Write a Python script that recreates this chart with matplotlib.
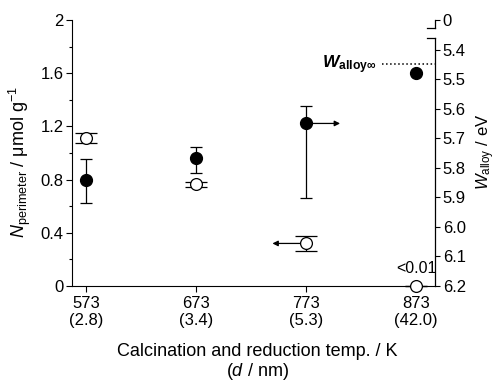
import numpy as np
import matplotlib
matplotlib.use('Agg')
import matplotlib.pyplot as plt

plt.rcParams['font.family'] = ['Liberation Sans', 'DejaVu Sans']
plt.rcParams['mathtext.fontset'] = 'custom'
plt.rcParams['mathtext.rm'] = 'Liberation Sans'
plt.rcParams['mathtext.it'] = 'Liberation Sans:italic'
plt.rcParams['mathtext.bf'] = 'Liberation Sans:italic:bold'
plt.rcParams['mathtext.sf'] = 'Liberation Sans:bold'

# calcination / reduction temperature (K) and particle size labels
temps = [573, 673, 773, 873]
tick_labels = ['573\n(2.8)', '673\n(3.4)', '773\n(5.3)', '873\n(42.0)']

# N_perimeter (open circles, left axis)
n_perim = [1.11, 0.765, 0.32, 0.0]
n_err = [0.037, 0.02, 0.057, 0.0]

# W_alloy (filled circles, right axis)
w_alloy = [5.84, 5.768, 5.65, 5.478]
w_err_low = [0.069, 0.039, 0.06, 0.0]
w_err_high = [0.079, 0.051, 0.251, 0.0]
w_inf = 5.45

left_ticks = [0, 0.4, 0.8, 1.2, 1.6, 2.0]
left_labels = ['0', '0.4', '0.8', '1.2', '1.6', '2']
right_ticks = [5.3, 5.4, 5.5, 5.6, 5.7, 5.8, 5.9, 6.0, 6.1, 6.2]
right_labels = ['0', '5.4', '5.5', '5.6', '5.7', '5.8', '5.9', '6.0', '6.1', '6.2']

W, H = 497, 383
fig = plt.figure(figsize=(W / 100, H / 100), dpi=100)
ax = fig.add_axes([72 / W, (H - 286) / H, (435 - 72) / W, 266 / H])
ax.set_xlim(560.3, 890.3)
ax.set_ylim(0, 2)
ax.patch.set_visible(False)

ax2 = ax.twinx()
ax2.set_ylim(6.2, 5.3)

fs = 12
for a in (ax, ax2):
    a.spines['top'].set_visible(False)
    a.spines['right'].set_visible(False)
ax2.spines['left'].set_visible(False)
ax2.spines['bottom'].set_visible(False)

# left axis
ax.set_yticks(left_ticks)
ax.set_yticklabels(left_labels, fontsize=fs)
ax.set_yticks(np.arange(0.2, 2.0, 0.4), minor=True)
ax.tick_params(axis='y', which='major', length=4, width=0.8, pad=2)
ax.tick_params(axis='y', which='minor', length=2.5, width=0.8)
ax.set_xticks(temps)
ax.set_xticklabels(tick_labels, fontsize=fs, linespacing=1.15)
ax.tick_params(axis='x', length=4, width=0.8, pad=3.5)

# right axis (broken)
ax2.set_yticks(right_ticks)
ax2.set_yticklabels(right_labels, fontsize=fs)
ax2.tick_params(axis='y', length=3.5, width=0.8, pad=2)
ax2.plot([1, 1], [0, 0.932], color='black', lw=0.9, transform=ax2.transAxes, clip_on=False)
ax2.plot([1, 1], [0.970, 1.0], color='black', lw=0.9, transform=ax2.transAxes, clip_on=False)
ax2.plot([1 - 8 / 363, 1], [0.932, 0.932], color='black', lw=0.9, transform=ax2.transAxes, clip_on=False)
ax2.plot([1 - 8 / 363, 1], [0.970, 0.970], color='black', lw=0.9, transform=ax2.transAxes, clip_on=False)

# open circles: N_perimeter
ax.errorbar(temps, n_perim, yerr=n_err, fmt='o', ms=8.5, mfc='white', mec='black',
            mew=0.9, ecolor='black', elinewidth=0.9, capsize=8, capthick=0.9,
            clip_on=False, zorder=3)

# filled circles: W_alloy
ax2.errorbar(temps, w_alloy, yerr=[w_err_low, w_err_high], fmt='o', ms=8.5, mfc='black',
             mec='black', ecolor='black', elinewidth=0.9, capsize=4, capthick=0.9,
             clip_on=False, zorder=3)

# arrows pointing to the relevant axis
ax2.annotate('', xy=(804, w_alloy[2]), xytext=(773, w_alloy[2]),
             arrowprops=dict(arrowstyle='-|>', color='black', lw=0.9,
                             mutation_scale=8, shrinkA=0, shrinkB=0))
ax.annotate('', xy=(742.5, n_perim[2]), xytext=(773, n_perim[2]),
            arrowprops=dict(arrowstyle='-|>', color='black', lw=0.9,
                            mutation_scale=8, shrinkA=0, shrinkB=0))

# W_alloy infinity reference
ax2.plot([842, 890.3], [w_inf, w_inf], ls=':', color='black', lw=1.1)
ax2.text(837, w_inf, r'$\mathbf{W}_{\mathsf{alloy∞}}$', fontsize=12.5,
         ha='right', va='center')

ax.text(873, 0.135, '<0.01', fontsize=11.5, ha='center', va='center')

# axis labels
ax.set_xlabel('Calcination and reduction temp. / K\n($d$ / nm)', fontsize=13,
              linespacing=1.05)
ax.xaxis.set_label_coords(0.51, -0.215, transform=ax.transAxes)
ax.xaxis.label.set_va('top')
ax.set_ylabel(r'$N$$_{\rm perimeter}$ / μmol g$^{-1}$', fontsize=13)
ax.yaxis.set_label_coords(-0.107, (286 - 162) / 266)
ax2.set_ylabel(r'$W$$_{\rm alloy}$ / eV', fontsize=12)
ax2.yaxis.set_label_coords(1.108, (286 - 152) / 266)

fig.savefig('out.png', dpi=100)
